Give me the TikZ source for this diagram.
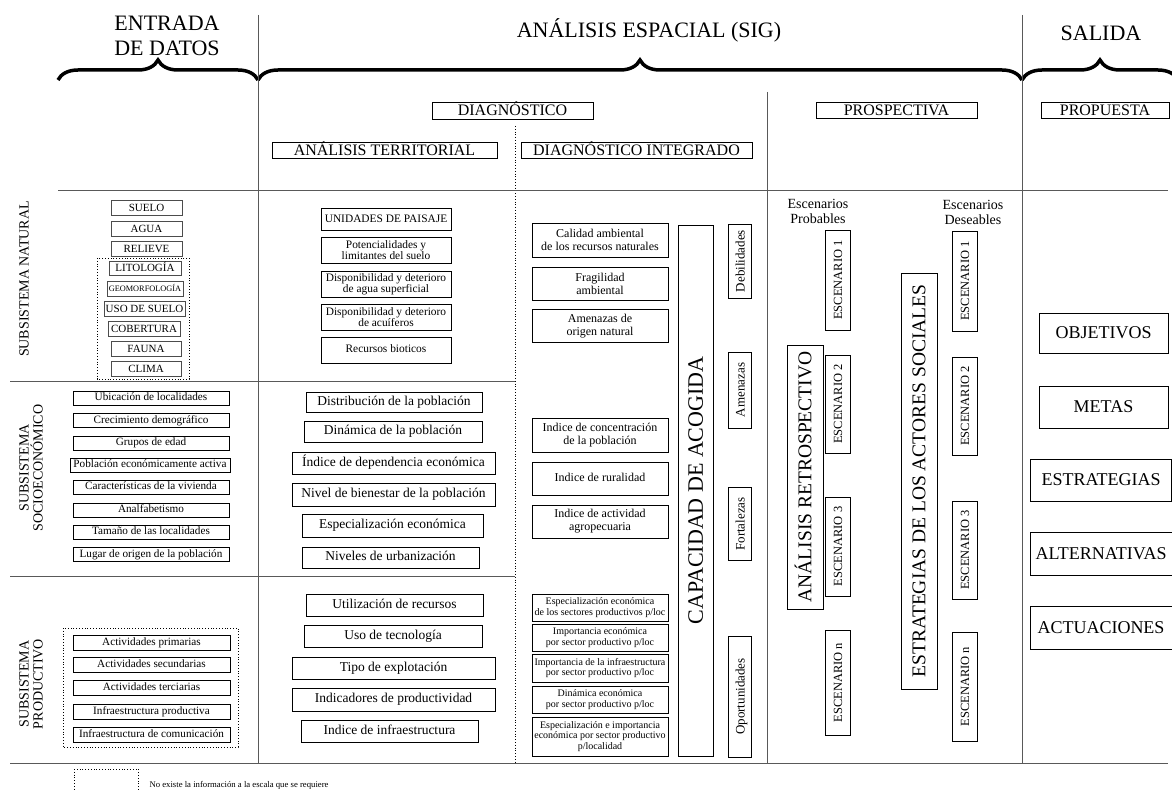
\documentclass[tikz,border=0pt]{standalone}
\usepackage{fontspec}
\setmainfont{Liberation Serif}
\usetikzlibrary{decorations.pathreplacing}

\begin{document}
\begin{tikzpicture}[x=1pt, y=-1pt,
  box/.style={draw, line width=0.6pt, inner sep=0pt, align=center},
  gbox/.style={box, draw=black!70, line width=0.9pt},
  vbox/.style={box, rotate=90},
  wh/.style 2 args={minimum width=#1, minimum height=#2},
  fs/.style 2 args={font=\fontsize{#1}{#2}\selectfont},
  tl/.style 2 args={text height=#1, text depth=#2},
  sep/.style={line width=1pt, black!65},
  dots/.style={dotted, line width=0.8pt},
  brc/.style={decorate, decoration={brace, amplitude=20pt}, line width=3.5pt}]
	\useasboundingbox (0,0) rectangle (1172,791);
	% header
	\node[fs={22}{25}, align=center] (tEnt) at (167,36) {ENTRADA\\DE DATOS};
	\node[fs={22}{25}] (tAna) at (649,30) {ANÁLISIS ESPACIAL (SIG)};
	\node[fs={22}{25}] (tSal) at (1101,33) {SALIDA};
	\draw[brc] (58,80) -- (258,80);
	\draw[brc] (258,80) -- (1022,80);
	\draw[brc] (1022,80) -- (1178,80);
	% grid
	\draw[sep] (258,15) -- (258,763);
	\draw[sep] (1022,15) -- (1022,763);
	\draw[sep] (767,92) -- (767,763);
	\draw[dots] (515,126) -- (515,763);
	\draw[sep] (58,191) -- (1168,191);
	\draw[sep] (10,381) -- (515,381);
	\draw[sep] (10,576) -- (515,576);
	\draw[sep] (10,763) -- (1168,763);
	% phases
	\node[box, wh={161}{17}, fs={16}{18}, tl={10.6}{0}] (hDiag) at (512.5,110.5) {DIAGNÓSTICO};
	\node[box, wh={225}{16}, fs={16}{18}, tl={10.6}{0}] (hTer) at (384.5,150) {ANÁLISIS TERRITORIAL};
	\node[box, wh={231}{16}, fs={16}{18}, tl={10.6}{0}] (hInt) at (636.5,150) {DIAGNÓSTICO INTEGRADO};
	\node[box, wh={161}{16}, fs={16}{18}, tl={10.6}{0}] (hPro) at (896.5,110) {PROSPECTIVA};
	\node[box, wh={128}{16}, fs={16}{18}, tl={10.6}{0}] (hPrp) at (1105,110) {PROPUESTA};
	% subsystems
	\node[rotate=90, fs={14}{14}] (lNat) at (24,279) {SUBSISTEMA NATURAL};
	\node[rotate=90, fs={14}{14}, align=center] (lSoc) at (31,468) {SUBSISTEMA\\SOCIOECONÓMICO};
	\node[rotate=90, fs={14}{14}, align=center] (lPrd) at (31,684) {SUBSISTEMA\\PRODUCTIVO};
	% input, natural
	\node[gbox, wh={71}{15}, fs={11}{11}, tl={7.3}{0}] (nSue) at (146.5,207.5) {SUELO};
	\node[gbox, wh={71}{15}, fs={11}{11}, tl={7.3}{0}] (nAgu) at (146.5,228.5) {AGUA};
	\node[gbox, wh={71}{15}, fs={11}{11}, tl={7.3}{0}] (nRel) at (146.5,248.5) {RELIEVE};
	\node[gbox, wh={72}{14}, fs={11}{11}, tl={7.3}{0}] (nLit) at (145,268) {LITOLOGÍA};
	\node[gbox, wh={76}{15}, fs={8.3}{9}, tl={5.5}{0}] (nGeo) at (145,288.5) {GEOMORFOLOGÍA};
	\node[gbox, wh={81}{15}, fs={11}{11}, tl={7.3}{0}] (nUso) at (144.5,308.5) {USO DE SUELO};
	\node[gbox, wh={72}{15}, fs={11}{11}, tl={7.3}{0}] (nCob) at (144,328.5) {COBERTURA};
	\node[gbox, wh={70}{15}, fs={11}{11}, tl={7.3}{0}] (nFau) at (146,348.5) {FAUNA};
	\node[gbox, wh={70}{15}, fs={11}{11}, tl={7.3}{0}] (nCli) at (146,368.5) {CLIMA};
	\draw[dots] (97,258) rectangle (189,379);
	% input, socioeconomic
	\node[box, wh={156}{14}, fs={11.2}{12}, tl={7.7}{2.4}] (sUbi) at (151,398) {Ubicación de localidades};
	\node[box, wh={156}{14}, fs={11.2}{12}, tl={7.7}{2.4}] (sCre) at (151,420.5) {Crecimiento demográfico};
	\node[box, wh={156}{14}, fs={11.2}{12}, tl={7.7}{2.4}] (sGru) at (151,443) {Grupos de edad};
	\node[box, wh={160}{14}, fs={11.2}{12}, tl={7.7}{2.4}] (sPob) at (150,465) {Población económicamente activa};
	\node[box, wh={156}{14}, fs={11.2}{12}, tl={7.7}{2.4}] (sCar) at (151,487) {Características de la vivienda};
	\node[box, wh={156}{14}, fs={11.2}{12}, tl={7.7}{2.4}] (sAna) at (151,510) {Analfabetismo};
	\node[box, wh={156}{14}, fs={11.2}{12}, tl={7.7}{2.4}] (sTam) at (151,532) {Tamaño de las localidades};
	\node[box, wh={156}{14}, fs={11.2}{12}, tl={7.7}{2.4}] (sLug) at (151,554.5) {Lugar de origen de la población};
	% input, productive
	\node[box, wh={157}{15}, fs={11.2}{12}, tl={7.7}{2.4}] (pPri) at (151.5,642.5) {Actividades primarias};
	\node[box, wh={157}{15}, fs={11.2}{12}, tl={7.7}{2.4}] (pSec) at (151.5,664.5) {Actividades secundarias};
	\node[box, wh={157}{15}, fs={11.2}{12}, tl={7.7}{2.4}] (pTer) at (151.5,688) {Actividades terciarias};
	\node[box, wh={157}{15}, fs={11.2}{12}, tl={7.7}{2.4}] (pInf) at (151.5,711.5) {Infraestructura productiva};
	\node[box, wh={157}{15}, fs={11.2}{12}, tl={7.7}{2.4}] (pCom) at (151.5,734.5) {Infraestructura de comunicación};
	\draw[dots] (63,628) rectangle (238,747);
	% territorial analysis
	\node[box, wh={130}{22}, fs={11.4}{11}, tl={7.5}{0}] (tUni) at (386,219) {UNIDADES DE PAISAJE};
	\node[box, wh={130}{26}, fs={11.4}{11}] (tPot) at (386,250) {Potencialidades y\\limitantes del suelo};
	\node[box, wh={130}{26}, fs={11.4}{11}] (tDag) at (386,284) {Disponibilidad y deterioro\\de agua superficial};
	\node[box, wh={130}{26}, fs={11.4}{11}] (tDac) at (386,317) {Disponibilidad y deterioro\\de acuíferos};
	\node[box, wh={130}{26}, fs={11.4}{11}, tl={7.8}{2.5}] (tRec) at (386,350) {Recursos bioticos};
	\node[box, wh={176}{20}, fs={13.5}{14}, tl={9.3}{2.9}] (tDis) at (394,402) {Distribución de la población};
	\node[box, wh={178}{21}, fs={13.5}{14}, tl={9.3}{2.9}] (tDin) at (393,431.5) {Dinámica de la población};
	\node[box, wh={203}{22}, fs={13.5}{14}, tl={9.3}{2.9}] (tInd) at (393.5,463) {Índice de dependencia económica};
	\node[box, wh={203}{23}, fs={13.5}{14}, tl={9.3}{2.9}] (tNiv) at (393.5,494.5) {Nivel de bienestar de la población};
	\node[box, wh={181}{23}, fs={13.5}{14}, tl={9.3}{2.9}] (tEsp) at (392.5,525.5) {Especialización económica};
	\node[box, wh={177}{21}, fs={13.5}{14}, tl={9.3}{2.9}] (tUrb) at (390.5,557.5) {Niveles de urbanización};
	\node[box, wh={177}{22}, fs={13.5}{14}, tl={9.3}{2.9}] (tUti) at (394.5,605) {Utilización de recursos};
	\node[box, wh={178}{22}, fs={13.5}{14}, tl={9.3}{2.9}] (tUso) at (393,636) {Uso de tecnología};
	\node[box, wh={203}{22}, fs={13.5}{14}, tl={9.3}{2.9}] (tTip) at (393.5,668) {Tipo de explotación};
	\node[box, wh={203}{23}, fs={13.5}{14}, tl={9.3}{2.9}] (tIdp) at (393.5,699.5) {Indicadores de productividad};
	\node[box, wh={177}{22}, fs={13.5}{14}, tl={9.3}{2.9}] (tIdi) at (389.5,731) {Indice de infraestructura};
	% integrated diagnosis
	\node[box, wh={136}{34}, fs={12}{13}] (iCal) at (600,240) {Calidad ambiental\\de los recursos naturales};
	\node[box, wh={136}{33}, fs={12}{13}] (iFra) at (600,283.5) {Fragilidad\\ambiental};
	\node[box, wh={136}{33}, fs={12}{13}] (iAme) at (600,326) {Amenazas de\\origen natural};
	\node[box, wh={136}{34}, fs={12}{13}] (iCon) at (600,435) {Indice de concentración\\de la población};
	\node[box, wh={136}{33}, fs={12}{13}, tl={8.3}{2.6}] (iRur) at (600,478.5) {Indice de ruralidad};
	\node[box, wh={136}{33}, fs={12}{13}] (iAct) at (600,521.5) {Indice de actividad\\agropecuaria};
	\node[box, wh={136}{27}, fs={10}{10.5}] (iEsp) at (600,607.5) {Especialización económica\\de los sectores productivos p/loc};
	\node[box, wh={136}{27}, fs={10}{10.5}] (iImp) at (600,637.5) {Importancia económica\\por sector productivo p/loc};
	\node[box, wh={136}{28}, fs={10}{10.5}] (iInf) at (600,668) {Importancia de la infraestructura\\por sector productivo p/loc};
	\node[box, wh={136}{27}, fs={10}{10.5}] (iDin) at (600,699.5) {Dinámica económica\\por sector productivo p/loc};
	\node[box, wh={136}{39}, fs={10}{10.5}] (iEsi) at (600,736.5) {Especialización e importancia\\económica por sector productivo\\p/localidad};
	\node[vbox, wh={531}{35}, fs={22}{22}, tl={14.6}{0}] (iCap) at (695.5,490.5) {CAPACIDAD DE ACOGIDA};
	\node[vbox, wh={74}{23}, fs={13}{13}, tl={9}{0}] (iDeb) at (740,261) {Debilidades};
	\node[vbox, wh={76}{23}, fs={13}{13}, tl={9}{0}] (iAmz) at (740,390) {Amenazas};
	\node[vbox, wh={73}{23}, fs={13}{13}, tl={9}{0}] (iFor) at (740,524) {Fortalezas};
	\node[vbox, wh={121}{23}, fs={13}{13}, tl={9}{0}] (iOpo) at (740,696.5) {Oportunidades};
	% prospective
	\node[fs={14}{15}, align=center] (ePro) at (818,211) {Escenarios\\Probables};
	\node[fs={14}{15}, align=center] (eDes) at (973,212) {Escenarios\\Deseables};
	\node[vbox, wh={264}{36}, fs={19.5}{20}, tl={12.9}{0}] (rRet) at (805,477) {ANÁLISIS RETROSPECTIVO};
	\node[vbox, wh={416}{36}, fs={19.5}{20}, tl={12.9}{0}] (rEst) at (919,481) {ESTRATEGIAS DE LOS ACTORES SOCIALES};
	\node[vbox, wh={100}{25}, fs={12.5}{13}, tl={8.3}{0}] (eP1) at (838,280) {ESCENARIO 1};
	\node[vbox, wh={98}{25}, fs={12.5}{13}, tl={8.3}{0}] (eP2) at (838,404) {ESCENARIO 2};
	\node[vbox, wh={99}{25}, fs={12.5}{13}, tl={8.3}{0}] (eP3) at (838,546.5) {ESCENARIO 3};
	\node[vbox, wh={105}{25}, fs={12.5}{13}, tl={8.3}{0}] (ePn) at (838,682.5) {ESCENARIO n};
	\node[vbox, wh={100}{25}, fs={12.5}{13}, tl={8.3}{0}] (eD1) at (965,281) {ESCENARIO 1};
	\node[vbox, wh={98}{25}, fs={12.5}{13}, tl={8.3}{0}] (eD2) at (965,406) {ESCENARIO 2};
	\node[vbox, wh={98}{25}, fs={12.5}{13}, tl={8.3}{0}] (eD3) at (965,550) {ESCENARIO 3};
	\node[vbox, wh={109}{25}, fs={12.5}{13}, tl={8.3}{0}] (eDn) at (965,686.5) {ESCENARIO n};
	% proposal
	\node[box, wh={129}{40}, fs={18}{18}] (pObj) at (1103.5,333) {OBJETIVOS};
	\node[box, wh={129}{42}, fs={18}{18}] (pMet) at (1103.5,407) {METAS};
	\node[box, wh={141}{42}, fs={18}{18}] (pEst) at (1101,480) {ESTRATEGIAS};
	\node[box, wh={142}{43}, fs={18}{18}] (pAlt) at (1101,554) {ALTERNATIVAS};
	\node[box, wh={142}{43}, fs={18}{18}] (pAct) at (1101,627.5) {ACTUACIONES};
	% legend
	\draw[dots] (74,769) rectangle (138,795);
	\node[fs={8.7}{9}, anchor=west] (lgd) at (146,785) {No existe la información a la escala que se requiere};
\end{tikzpicture}
\end{document}
